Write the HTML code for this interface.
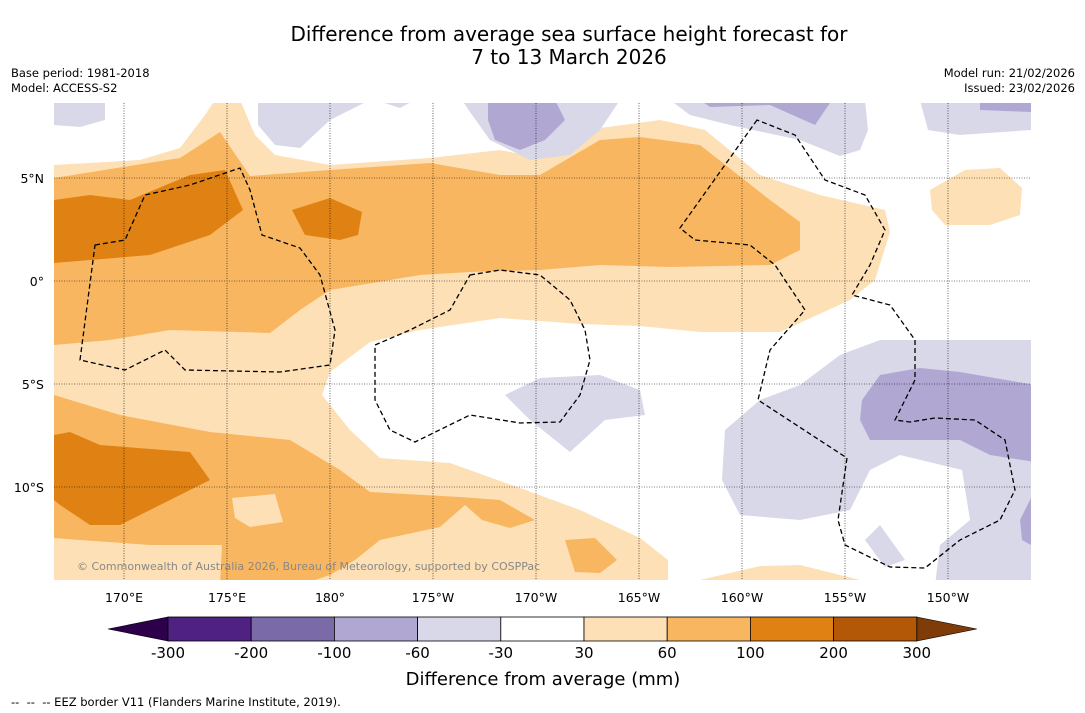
<!DOCTYPE html>
<html><head><meta charset="utf-8"><style>
body{margin:0;background:#fff;font-family:"DejaVu Sans",sans-serif;}
svg{display:block;font-family:"DejaVu Sans",sans-serif;}
</style></head><body>
<svg width="1085" height="713" viewBox="0 0 1085 713">
<text x="569" y="41" font-size="20" text-anchor="middle">Difference from average sea surface height forecast for</text>
<text x="569" y="64" font-size="20" text-anchor="middle">7 to 13 March 2026</text>
<text x="11" y="77" font-size="11.5">Base period: 1981-2018</text>
<text x="11" y="92" font-size="11.5">Model: ACCESS-S2</text>
<text x="1075" y="77" font-size="11.5" text-anchor="end">Model run: 21/02/2026</text>
<text x="1075" y="92" font-size="11.5" text-anchor="end">Issued: 23/02/2026</text>
<g id="map">
<clipPath id="mc"><rect x="54" y="103" width="977" height="477"/></clipPath>
<g clip-path="url(#mc)">
<rect x="54" y="103" width="977" height="477" fill="#fff"/>
<path fill="#fde0b5" d="M54,165 L140,160 L180,148 L205,115 L215,100 L240,100 L255,135 L275,155 L330,165 L430,158 L500,150 L540,158 L600,128 L660,120 L705,130 L760,175 L820,195 L885,210 L890,232 L875,280 L850,300 L780,332 L700,332 L640,326 L580,324 L500,318 L420,330 L370,342 L330,372 L322,395 L350,430 L380,458 L450,463 L520,488 L580,510 L640,538 L668,560 L668,585 L54,585 Z"/>
<path fill="#fde0b5" d="M700,580 L760,566 L800,565 L860,580 Z"/>
<path fill="#fde0b5" d="M930,190 L965,170 L1000,168 L1022,188 L1020,215 L990,225 L945,225 L932,210 Z"/>
<path fill="#f9b660" d="M54,178 L180,158 L220,132 L250,176 L330,170 L430,163 L500,175 L540,175 L600,140 L640,137 L700,145 L770,200 L800,222 L800,250 L770,265 L670,267 L600,265 L540,270 L470,272 L420,275 L330,290 L300,310 L270,333 L170,330 L110,340 L54,345 Z"/>
<path fill="#f9b660" d="M54,395 L120,415 L210,432 L290,440 L340,470 L370,492 L460,497 L500,500 L535,520 L510,528 L482,520 L465,505 L440,527 L380,540 L355,560 L330,575 L300,585 L220,585 L222,545 L150,545 L80,540 L54,538 Z"/>
<path fill="#fde0b5" d="M232,498 L275,494 L283,522 L250,527 L235,518 Z"/>
<path fill="#f9b660" d="M565,540 L595,538 L617,560 L600,573 L575,572 Z"/>
<path fill="#e08213" d="M54,200 L90,195 L130,200 L190,175 L225,170 L243,210 L210,235 L150,255 L54,263 Z"/>
<path fill="#e08213" d="M292,210 L330,198 L362,212 L358,235 L340,240 L305,235 Z"/>
<path fill="#e08213" d="M54,435 L70,432 L100,445 L190,452 L210,480 L170,500 L120,525 L90,525 L60,505 L54,500 Z"/>
<g fill="#d8d8e9">
<path d="M54,100 L105,100 L105,120 L80,127 L54,125 Z"/>
<path d="M258,100 L370,100 L330,120 L300,148 L275,145 L258,125 Z"/>
<path d="M375,100 L415,100 L400,108 Z"/>
<path d="M462,100 L620,100 L600,130 L570,155 L530,160 L490,140 L470,112 Z"/>
<path d="M670,100 L865,100 L868,130 L860,150 L840,156 L800,140 L730,125 L690,115 Z"/>
<path d="M920,100 L1031,100 L1031,130 L960,135 L928,130 Z"/>
<path d="M505,395 L540,378 L600,375 L640,390 L645,415 L605,420 L570,452 L530,420 Z"/>
<path d="M725,430 L760,400 L800,385 L840,355 L880,340 L1035,340 L1035,585 L935,585 L940,545 L970,520 L962,470 L900,455 L870,470 L850,510 L800,520 L740,515 L722,480 Z"/>
<path d="M865,540 L880,525 L905,560 L885,567 Z"/>
</g>
<g fill="#b0a8d2">
<path d="M488,100 L555,100 L565,120 L545,140 L520,150 L495,140 L488,120 Z"/>
<path d="M700,100 L832,100 L815,125 L770,105 L710,107 Z"/>
<path d="M980,100 L1031,100 L1031,112 L980,110 Z"/>
<path d="M862,400 L880,375 L920,368 L960,372 L1035,385 L1035,462 L990,455 L960,440 L910,440 L870,440 L860,420 Z"/>
<path d="M1020,520 L1031,498 L1031,545 L1022,540 Z"/>
</g>
<g stroke="#000" stroke-width="0.6" stroke-dasharray="1,1.5" id="grid"></g>
<g fill="none" stroke="#000" stroke-width="1.3" stroke-dasharray="5,3">
<path d="M95,245 L125,240 L145,195 L190,185 L240,168 L250,190 L262,235 L300,248 L320,275 L335,330 L330,365 L280,372 L185,370 L165,350 L125,370 L80,360 Z"/>
<path d="M470,275 L500,270 L540,275 L570,300 L585,330 L590,360 L580,395 L560,422 L520,423 L470,415 L415,442 L390,430 L375,400 L375,345 L410,330 L450,310 Z"/>
<path d="M757,120 L680,228 L695,240 L750,245 L775,265 L805,310 L770,350 L758,400 L847,458 L838,520 L845,545 L890,567 L925,568 L960,540 L1000,520 L1015,490 L1005,440 L975,420 L935,418 L910,422 L895,420 L915,380 L915,340 L890,305 L852,295 L870,265 L885,230 L865,195 L825,180 L795,135 Z"/>
</g>
</g>
<text x="77" y="570" font-size="11" fill="#888">© Commonwealth of Australia 2026, Bureau of Meteorology, supported by COSPPac</text>
<g id="axes" font-size="12.5"></g>
</g>
<g id="cbar"></g>
<text x="543" y="685" font-size="18" text-anchor="middle">Difference from average (mm)</text>
<text x="11" y="706" font-size="11.5">-- &#160;-- &#160;-- EEZ border V11 (Flanders Marine Institute, 2019).</text>
</svg>
<script>
const lonLabels=["170°E","175°E","180°","175°W","170°W","165°W","160°W","155°W","150°W"];
const lonValues=[170,175,180,185,190,195,200,205,210];
const latLabels=["5°N","0°","5°S","10°S"];
const latValues=[5,0,-5,-10];
const levelLabels=["-300","-200","-100","-60","-30","30","60","100","200","300"];
const levelColors=["#4f2183","#7a6aa8","#b0a8d2","#d8d8e9","#ffffff","#fde0b5","#f9b660","#e08213","#b35806"];
const xOf=l=>124+(l-170)*20.6;
const yOf=l=>281-l*20.6;
const NS="http://www.w3.org/2000/svg";
function mk(t,a,p){const e=document.createElementNS(NS,t);for(const k in a)e.setAttribute(k,a[k]);p.appendChild(e);return e;}
const grid=document.getElementById('grid'),axes=document.getElementById('axes');
lonValues.forEach((v,i)=>{const x=xOf(v);
const g=mk('line',{x1:x,x2:x,y1:103,y2:580},grid);


const t=mk('text',{x:x,y:602,'text-anchor':'middle'},axes);t.textContent=lonLabels[i];

});
latValues.forEach((v,i)=>{const y=yOf(v);
const g=mk('line',{x1:54,x2:1031,y1:y,y2:y},grid);


const t=mk('text',{x:44,y:y+5,'text-anchor':'end'},axes);t.textContent=latLabels[i];

});
const cb=document.getElementById('cbar');const x0=168,w=83.2,y0=617,h=24;
const lt=mk('polygon',{points:`108,${y0+h/2} ${x0},${y0} ${x0},${y0+h}`,fill:"#2d004b",stroke:"#000","stroke-width":0.6},cb);


const xe=x0+w*levelColors.length;
const rt=mk('polygon',{points:`${xe},${y0} ${xe+60},${y0+h/2} ${xe},${y0+h}`,fill:"#7f3b08",stroke:"#000","stroke-width":0.6},cb);


levelColors.forEach((c,i)=>{const r=mk('rect',{x:x0+i*w,y:y0,width:w,height:h,fill:c,stroke:"#000","stroke-width":0.8},cb);

});
levelLabels.forEach((l,i)=>{const t=mk('text',{x:x0+i*w,y:658,'font-size':15,'text-anchor':'middle'},cb);t.textContent=l;

});
</script>
</body></html>
